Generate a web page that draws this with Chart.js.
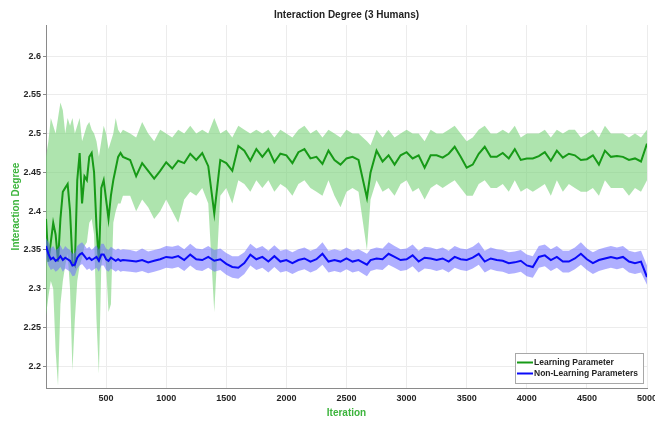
<!DOCTYPE html>
<html>
<head>
<meta charset="utf-8">
<script src="https://cdn.jsdelivr.net/npm/chart.js@4.4.1/dist/chart.umd.min.js"></script>
<style>
  html, body { margin: 0; padding: 0; background: #fff; }
</style>
</head>
<body>
<canvas id="chart" width="655" height="423"></canvas>
<script>
const iterations = [
  0, 20, 40, 60, 80, 100, 120, 140, 160, 180, 200, 220, 240, 260, 280, 300,
  320, 340, 360, 380, 400, 420, 440, 460, 480, 500, 520, 540, 560, 580, 600, 620, 640,
  700, 750, 800, 850, 900, 950, 1000, 1050, 1100, 1150,
  1200, 1250, 1300, 1350, 1400, 1450, 1500, 1550, 1600, 1650,
  1700, 1750, 1800, 1850, 1900, 1950, 2000, 2050, 2100, 2150,
  2200, 2250, 2300, 2350, 2400, 2450, 2500, 2550, 2600, 2670,
  2700, 2750, 2800, 2850, 2900, 2950, 3000, 3050, 3100, 3150,
  3200, 3250, 3300, 3350, 3400, 3450, 3500, 3550, 3600, 3650,
  3700, 3750, 3800, 3850, 3900, 3950, 4000, 4050, 4100, 4150,
  4200, 4250, 4300, 4350, 4400, 4450, 4500, 4550, 4600, 4650,
  4700, 4750, 4800, 4850, 4900, 4950, 5000
];

const learningMean = [
  2.39, 2.335, 2.36, 2.385, 2.37, 2.335, 2.39, 2.425, 2.43, 2.435, 2.40, 2.335, 2.33, 2.44, 2.475, 2.41,
  2.445, 2.44, 2.47, 2.475, 2.45, 2.38, 2.335, 2.43, 2.44, 2.415, 2.39, 2.42, 2.44, 2.455, 2.47, 2.475, 2.47,
  2.466, 2.445, 2.462, 2.452, 2.442, 2.452, 2.463, 2.455, 2.465, 2.462,
  2.474, 2.466, 2.475, 2.458, 2.397, 2.466, 2.462, 2.452, 2.484, 2.478,
  2.465, 2.48, 2.47, 2.48, 2.463, 2.474, 2.472, 2.462, 2.476, 2.48,
  2.468, 2.47, 2.461, 2.478, 2.466, 2.46, 2.468, 2.47, 2.466, 2.417,
  2.45, 2.478, 2.464, 2.472, 2.46, 2.472, 2.476, 2.468, 2.472, 2.456,
  2.472, 2.472, 2.469, 2.474, 2.483, 2.47, 2.456, 2.46, 2.474, 2.483,
  2.47, 2.47, 2.475, 2.468, 2.48, 2.466, 2.468, 2.468, 2.471, 2.476,
  2.465, 2.478, 2.469, 2.474, 2.472, 2.466, 2.467, 2.472, 2.46, 2.478,
  2.47, 2.471, 2.47, 2.466, 2.468, 2.464, 2.487
];
const learningUpper = [
  2.47, 2.49, 2.52, 2.51, 2.50, 2.52, 2.54, 2.53, 2.50, 2.52, 2.51, 2.52, 2.50, 2.51, 2.52, 2.49,
  2.50, 2.51, 2.515, 2.505, 2.50, 2.49, 2.47, 2.49, 2.51, 2.50, 2.48, 2.49, 2.50, 2.52, 2.505, 2.50, 2.505,
  2.50, 2.495, 2.515, 2.50, 2.49, 2.505, 2.50, 2.495, 2.505, 2.50,
  2.51, 2.50, 2.505, 2.50, 2.52, 2.50, 2.505, 2.495, 2.51, 2.505,
  2.50, 2.505, 2.50, 2.505, 2.495, 2.505, 2.50, 2.495, 2.505, 2.51,
  2.50, 2.505, 2.495, 2.505, 2.50, 2.495, 2.505, 2.50, 2.50, 2.49,
  2.485, 2.505, 2.495, 2.505, 2.495, 2.50, 2.505, 2.50, 2.50, 2.49,
  2.505, 2.50, 2.50, 2.505, 2.51, 2.50, 2.49, 2.495, 2.505, 2.51,
  2.50, 2.50, 2.505, 2.50, 2.51, 2.495, 2.50, 2.50, 2.50, 2.505,
  2.495, 2.505, 2.50, 2.505, 2.505, 2.495, 2.50, 2.505, 2.495, 2.51,
  2.50, 2.50, 2.50, 2.495, 2.50, 2.495, 2.505
];
const learningLower = [
  2.265, 2.29, 2.31, 2.30, 2.22, 2.175, 2.28, 2.31, 2.33, 2.345, 2.30, 2.195, 2.26, 2.31, 2.33, 2.34,
  2.355, 2.36, 2.385, 2.39, 2.37, 2.26, 2.19, 2.33, 2.35, 2.33, 2.27, 2.28, 2.385, 2.40, 2.41, 2.41, 2.42,
  2.42, 2.40, 2.415, 2.405, 2.39, 2.40, 2.415, 2.40, 2.385, 2.415,
  2.425, 2.42, 2.43, 2.41, 2.27, 2.42, 2.43, 2.41, 2.44, 2.435,
  2.425, 2.44, 2.43, 2.44, 2.425, 2.435, 2.43, 2.42, 2.435, 2.44,
  2.43, 2.425, 2.42, 2.44, 2.42, 2.405, 2.425, 2.43, 2.425, 2.35,
  2.415, 2.44, 2.425, 2.43, 2.42, 2.435, 2.44, 2.425, 2.43, 2.415,
  2.43, 2.435, 2.43, 2.435, 2.44, 2.43, 2.42, 2.42, 2.435, 2.44,
  2.43, 2.43, 2.435, 2.425, 2.44, 2.425, 2.43, 2.425, 2.43, 2.435,
  2.42, 2.44, 2.425, 2.435, 2.43, 2.425, 2.425, 2.43, 2.42, 2.44,
  2.43, 2.43, 2.43, 2.42, 2.43, 2.425, 2.44
];

const nonLearningMean = [
  2.355, 2.345, 2.338, 2.34, 2.336, 2.338, 2.342, 2.337, 2.34, 2.338, 2.336, 2.33, 2.331, 2.34, 2.344, 2.346,
  2.342, 2.338, 2.34, 2.337, 2.339, 2.341, 2.336, 2.344, 2.344, 2.338, 2.336, 2.34, 2.338, 2.336, 2.338, 2.336, 2.337,
  2.336, 2.335, 2.337, 2.334, 2.336, 2.338, 2.341, 2.34, 2.342, 2.337,
  2.344, 2.338, 2.337, 2.341, 2.336, 2.338, 2.332, 2.328, 2.327, 2.333,
  2.344, 2.338, 2.341, 2.335, 2.342, 2.335, 2.337, 2.333, 2.337, 2.339,
  2.335, 2.338, 2.345, 2.335, 2.337, 2.335, 2.339, 2.335, 2.337, 2.331,
  2.337, 2.339, 2.338, 2.345, 2.341, 2.337, 2.338, 2.343, 2.335, 2.34,
  2.339, 2.337, 2.339, 2.335, 2.341, 2.338, 2.337, 2.34, 2.345, 2.335,
  2.339, 2.337, 2.336, 2.333, 2.334, 2.336, 2.33, 2.328, 2.341, 2.343,
  2.337, 2.341, 2.335, 2.335, 2.339, 2.345, 2.338, 2.333, 2.337, 2.339,
  2.341, 2.339, 2.341, 2.335, 2.333, 2.335, 2.315
];
const nonLearningUpper = [
  2.365, 2.36, 2.352, 2.355, 2.35, 2.352, 2.356, 2.35, 2.355, 2.352, 2.35, 2.345, 2.346, 2.355, 2.358, 2.36,
  2.356, 2.352, 2.354, 2.35, 2.353, 2.356, 2.35, 2.358, 2.358, 2.352, 2.35, 2.354, 2.352, 2.35, 2.352, 2.35, 2.351,
  2.35, 2.348, 2.352, 2.348, 2.35, 2.352, 2.355, 2.354, 2.356, 2.351,
  2.358, 2.352, 2.351, 2.355, 2.35, 2.352, 2.346, 2.342, 2.342, 2.347,
  2.358, 2.352, 2.355, 2.349, 2.356, 2.349, 2.351, 2.347, 2.351, 2.353,
  2.349, 2.352, 2.36, 2.349, 2.351, 2.349, 2.353, 2.349, 2.351, 2.345,
  2.351, 2.353, 2.352, 2.36, 2.355, 2.351, 2.352, 2.357, 2.349, 2.354,
  2.353, 2.351, 2.353, 2.349, 2.355, 2.352, 2.351, 2.354, 2.36, 2.349,
  2.353, 2.351, 2.35, 2.347, 2.348, 2.35, 2.344, 2.342, 2.355, 2.357,
  2.351, 2.355, 2.349, 2.349, 2.353, 2.36, 2.352, 2.347, 2.351, 2.353,
  2.355, 2.353, 2.355, 2.349, 2.347, 2.349, 2.33
];
const nonLearningLower = [
  2.34, 2.33, 2.324, 2.326, 2.322, 2.324, 2.328, 2.322, 2.326, 2.324, 2.322, 2.316, 2.317, 2.326, 2.33, 2.332,
  2.328, 2.324, 2.326, 2.323, 2.325, 2.327, 2.322, 2.33, 2.33, 2.324, 2.322, 2.326, 2.324, 2.322, 2.324, 2.322, 2.323,
  2.322, 2.321, 2.323, 2.32, 2.322, 2.324, 2.327, 2.326, 2.328, 2.323,
  2.33, 2.324, 2.323, 2.327, 2.322, 2.324, 2.318, 2.314, 2.313, 2.319,
  2.33, 2.324, 2.327, 2.321, 2.328, 2.321, 2.323, 2.319, 2.323, 2.325,
  2.321, 2.324, 2.331, 2.321, 2.323, 2.321, 2.325, 2.321, 2.323, 2.316,
  2.323, 2.325, 2.324, 2.331, 2.327, 2.323, 2.324, 2.329, 2.321, 2.326,
  2.325, 2.323, 2.325, 2.321, 2.327, 2.324, 2.323, 2.326, 2.331, 2.321,
  2.325, 2.323, 2.322, 2.319, 2.32, 2.322, 2.316, 2.314, 2.327, 2.329,
  2.323, 2.327, 2.321, 2.321, 2.325, 2.331, 2.324, 2.319, 2.323, 2.325,
  2.327, 2.325, 2.327, 2.321, 2.319, 2.321, 2.305
];

const xTicks = [500, 1000, 1500, 2000, 2500, 3000, 3500, 4000, 4500, 5000];
const yTicks = [2.2, 2.25, 2.3, 2.35, 2.4, 2.45, 2.5, 2.55, 2.6];

const GREEN_LINE = '#179a17';
const GREEN_BAND = 'rgba(120, 210, 120, 0.6)';
const BLUE_LINE = '#0a0af8';
const BLUE_BAND = 'rgba(110, 110, 255, 0.55)';
const LABEL_GREEN = '#3cb43c';
const TEXT = '#262626';
const AXIS = '#8a8a8a';
const GRID = '#ececec';

function toPoints(values) {
  return iterations.map((it, i) => ({ x: it, y: values[i] }));
}

function band(values, color, fill, order) {
  return {
    data: toPoints(values),
    fill: fill,
    backgroundColor: color,
    borderColor: 'transparent',
    borderWidth: 0,
    pointRadius: 0,
    tension: 0,
    order: order
  };
}

function meanLine(label, values, color, order) {
  return {
    label: label,
    data: toPoints(values),
    fill: false,
    borderColor: color,
    backgroundColor: color,
    borderWidth: 2,
    pointRadius: 0,
    tension: 0,
    order: order,
    inLegend: true
  };
}

// legend box drawn in the lower right corner of the plot
const boxLegend = {
  id: 'boxLegend',
  afterDraw(chart) {
    const { ctx, chartArea } = chart;
    const items = chart.data.datasets.filter(ds => ds.inLegend);
    const w = 128, h = 30;
    const x = chartArea.right - w - 4;
    const y = chartArea.bottom - h - 5;
    ctx.save();
    ctx.fillStyle = '#fff';
    ctx.fillRect(x, y, w, h);
    ctx.strokeStyle = '#a8a8a8';
    ctx.lineWidth = 1;
    ctx.strokeRect(x + 0.5, y + 0.5, w, h);
    ctx.font = 'bold 8.5px "Liberation Sans", Arial, sans-serif';
    ctx.textBaseline = 'middle';
    items.forEach((ds, i) => {
      const ly = y + 9.5 + i * 11;
      ctx.strokeStyle = ds.borderColor;
      ctx.lineWidth = 2;
      ctx.beginPath();
      ctx.moveTo(x + 2, ly);
      ctx.lineTo(x + 18, ly);
      ctx.stroke();
      ctx.fillStyle = TEXT;
      ctx.fillText(ds.label, x + 19, ly);
    });
    ctx.restore();
  }
};

const tickFont = { family: '"Liberation Sans", Arial, sans-serif', size: 9, weight: 'bold' };
const titleFont = { family: '"Liberation Sans", Arial, sans-serif', size: 10, weight: 'bold' };

new Chart(document.getElementById('chart'), {
  type: 'line',
  data: {
    datasets: [
      band(learningUpper, GREEN_BAND, '+1', 6),
      band(learningLower, GREEN_BAND, false, 6),
      meanLine('Learning Parameter', learningMean, GREEN_LINE, 5),
      band(nonLearningUpper, BLUE_BAND, '+1', 4),
      band(nonLearningLower, BLUE_BAND, false, 4),
      meanLine('Non-Learning Parameters', nonLearningMean, BLUE_LINE, 3)
    ]
  },
  options: {
    responsive: false,
    animation: false,
    events: [],
    layout: { padding: { left: 0, right: 8, top: 0, bottom: 0 } },
    plugins: {
      legend: { display: false },
      tooltip: { enabled: false },
      title: {
        display: true,
        text: 'Interaction Degree (3 Humans)',
        color: '#222',
        font: titleFont,
        fullSize: false,
        padding: { top: 9, bottom: 4 }
      }
    },
    scales: {
      x: {
        type: 'linear',
        min: 0,
        max: 5000,
        afterBuildTicks: scale => { scale.ticks = xTicks.map(v => ({ value: v })); },
        afterFit: scale => { scale.height = 35; scale.paddingLeft = 0; scale.paddingRight = 0; },
        ticks: { font: tickFont, color: TEXT, padding: 5, maxRotation: 0, autoSkip: false, callback: v => String(v) },
        grid: { color: GRID, drawTicks: false },
        border: { color: AXIS },
        title: { display: true, text: 'Iteration', color: LABEL_GREEN, font: titleFont, padding: { top: 0, bottom: 4 } }
      },
      y: {
        type: 'linear',
        min: 2.172,
        max: 2.64,
        afterBuildTicks: scale => { scale.ticks = yTicks.map(v => ({ value: v })); },
        afterFit: scale => { scale.width = 46; },
        ticks: { font: tickFont, color: TEXT, padding: 2, autoSkip: false, callback: v => String(v) },
        grid: { color: GRID, tickLength: 3, tickColor: AXIS },
        border: { color: AXIS },
        title: { display: true, text: 'Interaction Degree', color: LABEL_GREEN, font: titleFont, padding: { top: 10, bottom: 0 } }
      }
    }
  },
  plugins: [boxLegend]
});
</script>
</body>
</html>
